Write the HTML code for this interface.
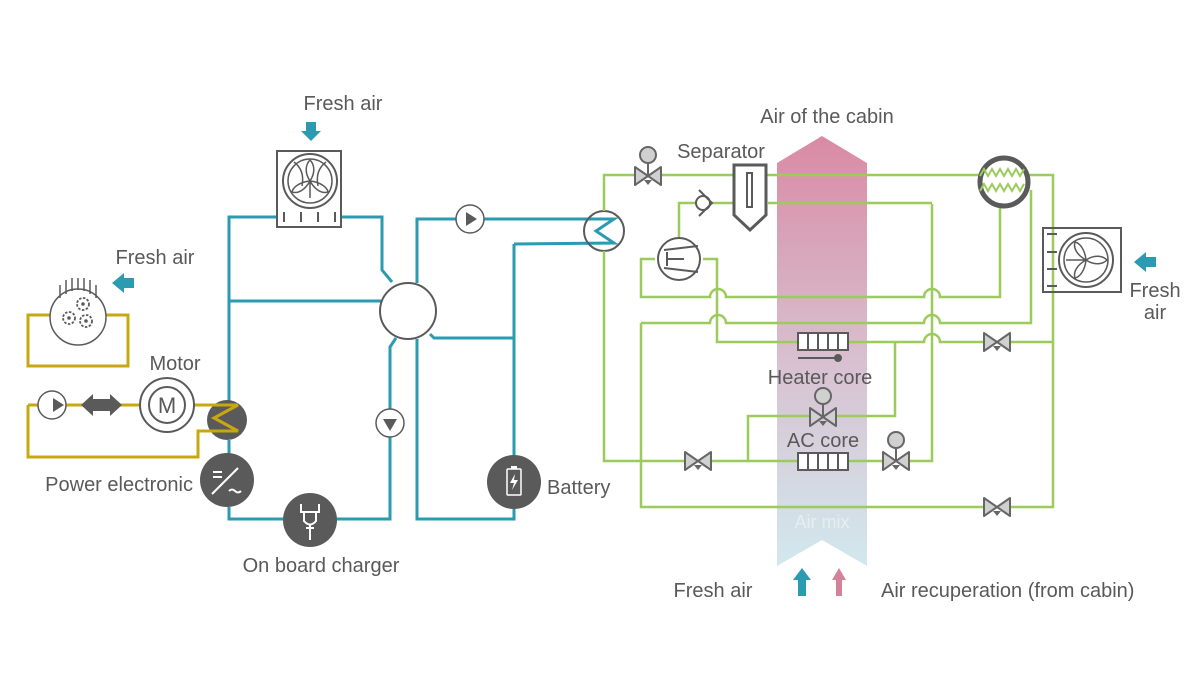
<!DOCTYPE html>
<html><head><meta charset="utf-8"><style>
html,body{margin:0;padding:0;background:#fff;}
svg{display:block;}
text{font-family:"Liberation Sans",sans-serif;font-size:20px;fill:#595959;}
</style></head><body>
<svg width="1200" height="675" viewBox="0 0 1200 675" xmlns="http://www.w3.org/2000/svg">
<defs>
<linearGradient id="cab" x1="0" y1="0" x2="0" y2="1">
<stop offset="0" stop-color="#d98aa4"/>
<stop offset="0.55" stop-color="#d8c3d2"/>
<stop offset="1" stop-color="#d2e8ee"/>
</linearGradient>
<g id="valve"><path d="M-13,-9 L13,9 L13,-9 L-13,9 Z" fill="#d0d0d0" stroke="#666" stroke-width="2" stroke-linejoin="round"/><path d="M-4,4 L4,4 L0,9 Z" fill="#666"/></g>
<g id="avalve"><use href="#valve"/><line x1="0" y1="0" x2="0" y2="-14" stroke="#666" stroke-width="2"/><circle cx="0" cy="-21" r="8" fill="#d0d0d0" stroke="#666" stroke-width="2"/></g>
</defs>

<!-- cabin air arrow -->
<path d="M777,163 L822,136 L867,163 L867,566 L822,540 L777,566 Z" fill="url(#cab)"/>
<text x="822" y="528" text-anchor="middle" style="fill:#e6eef2;font-size:18px">Air mix</text>

<!-- TEAL circuit -->
<g fill="none" stroke="#2a9bb0" stroke-width="3">
<path d="M229,405 L229,217 L382,217 L382,270 L392,282"/>
<path d="M229,301 L381,301"/>
<path d="M229,440 L229,455"/>
<path d="M229,507 L229,519 L283,519"/>
<path d="M337,519 L390,519 L390,347 L396,338"/>
<path d="M417,283 L417,219 L614,219 L596,231 L614,243 L514,244"/>
<path d="M417,339 L417,519 L514,519 L514,244"/>
<path d="M430,334 L434,338 L514,338"/>
</g>
<circle cx="408" cy="311" r="28" fill="#fff" stroke="#5a5a5a" stroke-width="2"/>
<circle cx="604" cy="231" r="20" fill="none" stroke="#5a5a5a" stroke-width="2"/>
<!-- pumps -->
<circle cx="470" cy="219" r="14" fill="#fff" stroke="#5a5a5a" stroke-width="1.5"/><path d="M466,212 L477,219 L466,226 Z" fill="#5a5a5a"/>
<circle cx="390" cy="423" r="14" fill="#fff" stroke="#5a5a5a" stroke-width="1.5"/><path d="M383,419 L397,419 L390,431 Z" fill="#5a5a5a"/>

<!-- top fan -->
<rect x="277" y="151" width="64" height="76" fill="#fff" stroke="#5a5a5a" stroke-width="2"/>
<circle cx="310" cy="181" r="27" fill="none" stroke="#5a5a5a" stroke-width="2"/>
<circle cx="310" cy="181" r="22" fill="none" stroke="#5a5a5a" stroke-width="1.5"/>
<g fill="none" stroke="#5a5a5a" stroke-width="1.5"><path d="M310,181 C304,172 306,164 310,160 C314,164 316,172 310,181 M310,181 C300,182 293,187 292,192 C298,194 305,190 310,181 M310,181 C315,190 322,194 328,192 C327,187 320,182 310,181 M294,162 C302,168 304,176 302,186 M326,162 C318,168 316,176 318,186 M310,181 L310,198"/></g>
<g stroke="#5a5a5a" stroke-width="2"><line x1="284" y1="212" x2="284" y2="222"/><line x1="301" y1="212" x2="301" y2="222"/><line x1="318" y1="212" x2="318" y2="222"/><line x1="335" y1="212" x2="335" y2="222"/></g>
<path d="M306,122 L316,122 L316,131 L321,131 L311,141 L301,131 L306,131 Z" fill="#2a9bb0"/>
<text x="343" y="110" text-anchor="middle">Fresh air</text>

<!-- left gear radiator -->
<path d="M28,315 L128,315 L128,366 L28,366 Z" fill="none" stroke="#c8a812" stroke-width="3"/>
<circle cx="78" cy="317" r="28" fill="#fff" stroke="#5a5a5a" stroke-width="1.5"/>
<g stroke="#5a5a5a" stroke-width="1.5"><line x1="60" y1="285" x2="60" y2="298"/><line x1="66" y1="280" x2="66" y2="294"/><line x1="72" y1="278" x2="72" y2="291"/><line x1="78" y1="278" x2="78" y2="290"/><line x1="84" y1="278" x2="84" y2="291"/><line x1="90" y1="280" x2="90" y2="294"/><line x1="96" y1="285" x2="96" y2="298"/></g>
<g fill="none" stroke="#5a5a5a" stroke-width="1.8" stroke-dasharray="2.5 1.5"><circle cx="83" cy="304" r="6"/><circle cx="69" cy="318" r="6"/><circle cx="86" cy="321" r="6"/></g>
<g fill="#5a5a5a"><circle cx="83" cy="304" r="1.8"/><circle cx="69" cy="318" r="1.8"/><circle cx="86" cy="321" r="1.8"/></g>
<path d="M134,278 L124,278 L124,273 L112,283 L124,293 L124,288 L134,288 Z" fill="#2a9bb0"/>
<text x="155" y="264" text-anchor="middle">Fresh air</text>

<!-- motor loop -->
<g fill="none" stroke="#c8a812" stroke-width="3">
<path d="M28,405 L28,457 L198,457 L198,431 L236,431"/>
<path d="M28,405 L38,405 M66,405 L140,405 M194,405 L236,405"/>
</g>
<circle cx="52" cy="405" r="14" fill="#fff" stroke="#5a5a5a" stroke-width="1.5"/><path d="M53,398 L64,405 L53,412 Z" fill="#5a5a5a"/>
<path d="M81,405 L93,394 L93,399 L110,399 L110,394 L122,405 L110,416 L110,411 L93,411 L93,416 Z" fill="#5a5a5a"/>
<circle cx="167" cy="405" r="27" fill="#fff" stroke="#5a5a5a" stroke-width="2"/>
<circle cx="167" cy="405" r="18" fill="none" stroke="#5a5a5a" stroke-width="2"/>
<text x="167" y="413" text-anchor="middle" style="font-size:22px">M</text>
<text x="175" y="370" text-anchor="middle">Motor</text>
<circle cx="227" cy="420" r="20" fill="#5a5a5a"/>
<path d="M208,405 L238,405 L214,418 L238,431 L208,431" fill="none" stroke="#c8a812" stroke-width="3"/>
<circle cx="227" cy="480" r="27" fill="#5a5a5a"/>
<g stroke="#fff" stroke-width="2" fill="none"><line x1="213" y1="472" x2="222" y2="472"/><line x1="213" y1="477" x2="222" y2="477"/><line x1="212" y1="494" x2="238" y2="468"/><path d="M229,491 q3,-3 6,0 q3,3 6,0"/></g>
<text x="193" y="491" text-anchor="end">Power electronic</text>
<circle cx="310" cy="520" r="27" fill="#5a5a5a"/>
<g stroke="#fff" stroke-width="2" fill="none"><path d="M301,504 L301,512 L319,512 L319,504 M304,512 L304,521 Q310,528 316,521 L316,512 M310,525 L310,540 M306,528 L314,528"/></g>
<text x="321" y="572" text-anchor="middle">On board charger</text>
<circle cx="514" cy="482" r="27" fill="#5a5a5a"/>
<rect x="507" y="469" width="14" height="26" rx="1" fill="none" stroke="#fff" stroke-width="1.5"/><rect x="511" y="466" width="6" height="3" fill="#fff"/>
<path d="M515,474 L510,483 L514,483 L512,490 L518,480 L514,480 Z" fill="#fff"/>
<text x="547" y="494">Battery</text>

<!-- GREEN circuit -->
<g fill="none" stroke="#9ccb5d" stroke-width="2.5">
<path d="M604,251 L604,461 L932,461 L932,204"/>
<path d="M604,211 L604,175 L1053,175 L1053,507 L641,507 L641,323"/>
<path d="M641,323 L710,323 A8,8 0 0 1 726,323 L924,323 A8,8 0 0 1 940,323 L1031,323 L1031,190"/>
<path d="M655,259 L641,259 L641,297 L710,297 A8,8 0 0 1 726,297 L924,297 A8,8 0 0 1 940,297 L1000,297 L1000,206"/>
<path d="M703,259 L717,259 L717,342 L924,342 A8,8 0 0 1 940,342 L1053,342"/>
<path d="M679,238 L679,203 L733,203"/>
<path d="M768,203 L932,203"/>
<path d="M748,461 L748,416 L895,416 L895,342"/>
</g>
<!-- coil -->
<circle cx="1004" cy="182" r="24" fill="#fff" stroke="#5a5a5a" stroke-width="5"/>
<path d="M980,176 l4,-7 l4,7 l4,-7 l4,7 l4,-7 l4,7 l4,-7 l4,7 l4,-7 l4,7 l4,-7 M980,191 l4,-7 l4,7 l4,-7 l4,7 l4,-7 l4,7 l4,-7 l4,7 l4,-7 l4,7 l4,-7" fill="none" stroke="#9ccb5d" stroke-width="2"/>
<!-- separator -->
<path d="M734,165 L766,165 L766,215 L750,230 L734,215 Z" fill="#fff" stroke="#5a5a5a" stroke-width="3"/>
<rect x="747" y="173" width="5" height="34" fill="none" stroke="#5a5a5a" stroke-width="2"/>
<text x="721" y="158" text-anchor="middle">Separator</text>
<!-- check valve -->
<circle cx="703" cy="203" r="7" fill="#fff" stroke="#5a5a5a" stroke-width="2"/>
<path d="M699,190 L712,203 L699,216" fill="none" stroke="#5a5a5a" stroke-width="2"/>
<!-- compressor -->
<circle cx="679" cy="259" r="21" fill="#fff" stroke="#5a5a5a" stroke-width="2"/>
<path d="M664,250 L698,246 M664,268 L698,272 M667,259 L684,259 M667,252 L667,266" fill="none" stroke="#5a5a5a" stroke-width="2"/>
<!-- valves -->
<use href="#avalve" x="648" y="176"/>
<use href="#valve" x="698" y="461"/>
<use href="#avalve" x="823" y="417"/>
<use href="#avalve" x="896" y="461"/>
<use href="#valve" x="997" y="342"/>
<use href="#valve" x="997" y="507"/>
<!-- heater core -->
<rect x="798" y="333" width="50" height="17" fill="#fff" stroke="#5a5a5a" stroke-width="2"/>
<g stroke="#5a5a5a" stroke-width="2"><line x1="808" y1="333" x2="808" y2="350"/><line x1="818" y1="333" x2="818" y2="350"/><line x1="828" y1="333" x2="828" y2="350"/><line x1="838" y1="333" x2="838" y2="350"/><line x1="798" y1="358" x2="836" y2="358"/></g>
<circle cx="838" cy="358" r="4" fill="#5a5a5a"/>
<text x="820" y="384" text-anchor="middle">Heater core</text>
<text x="823" y="447" text-anchor="middle">AC core</text>
<rect x="798" y="453" width="50" height="17" fill="#fff" stroke="#5a5a5a" stroke-width="2"/>
<g stroke="#5a5a5a" stroke-width="2"><line x1="808" y1="453" x2="808" y2="470"/><line x1="818" y1="453" x2="818" y2="470"/><line x1="828" y1="453" x2="828" y2="470"/><line x1="838" y1="453" x2="838" y2="470"/></g>
<!-- right fan -->
<rect x="1043" y="228" width="78" height="64" fill="none" stroke="#5a5a5a" stroke-width="2"/>
<g stroke="#5a5a5a" stroke-width="2"><line x1="1047" y1="234" x2="1057" y2="234"/><line x1="1047" y1="252" x2="1057" y2="252"/><line x1="1047" y1="269" x2="1057" y2="269"/><line x1="1047" y1="286" x2="1057" y2="286"/></g>
<circle cx="1086" cy="260" r="27" fill="none" stroke="#5a5a5a" stroke-width="2"/>
<circle cx="1086" cy="260" r="22" fill="none" stroke="#5a5a5a" stroke-width="1.5"/>
<g fill="none" stroke="#5a5a5a" stroke-width="1.5"><path d="M1086,260 C1095,254 1103,256 1107,260 C1103,264 1095,266 1086,260 M1086,260 C1085,250 1080,243 1075,242 C1073,248 1077,255 1086,260 M1086,260 C1077,265 1073,272 1075,278 C1080,277 1085,270 1086,260 M1066,260 L1086,260"/></g>
<path d="M1156,257 L1146,257 L1146,252 L1134,262 L1146,272 L1146,267 L1156,267 Z" fill="#2a9bb0"/>
<text x="1155" y="297" text-anchor="middle">Fresh</text>
<text x="1155" y="319" text-anchor="middle">air</text>

<text x="827" y="123" text-anchor="middle">Air of the cabin</text>

<!-- bottom legend -->
<text x="713" y="597" text-anchor="middle">Fresh air</text>
<path d="M798,596 L798,580 L793,580 L802,568 L811,580 L806,580 L806,596 Z" fill="#2a9bb0"/>
<path d="M836,596 L836,580 L832,580 L839,568 L846,580 L842,580 L842,596 Z" fill="#d4829b"/>
<text x="881" y="597">Air recuperation (from cabin)</text>
</svg>
</body></html>
